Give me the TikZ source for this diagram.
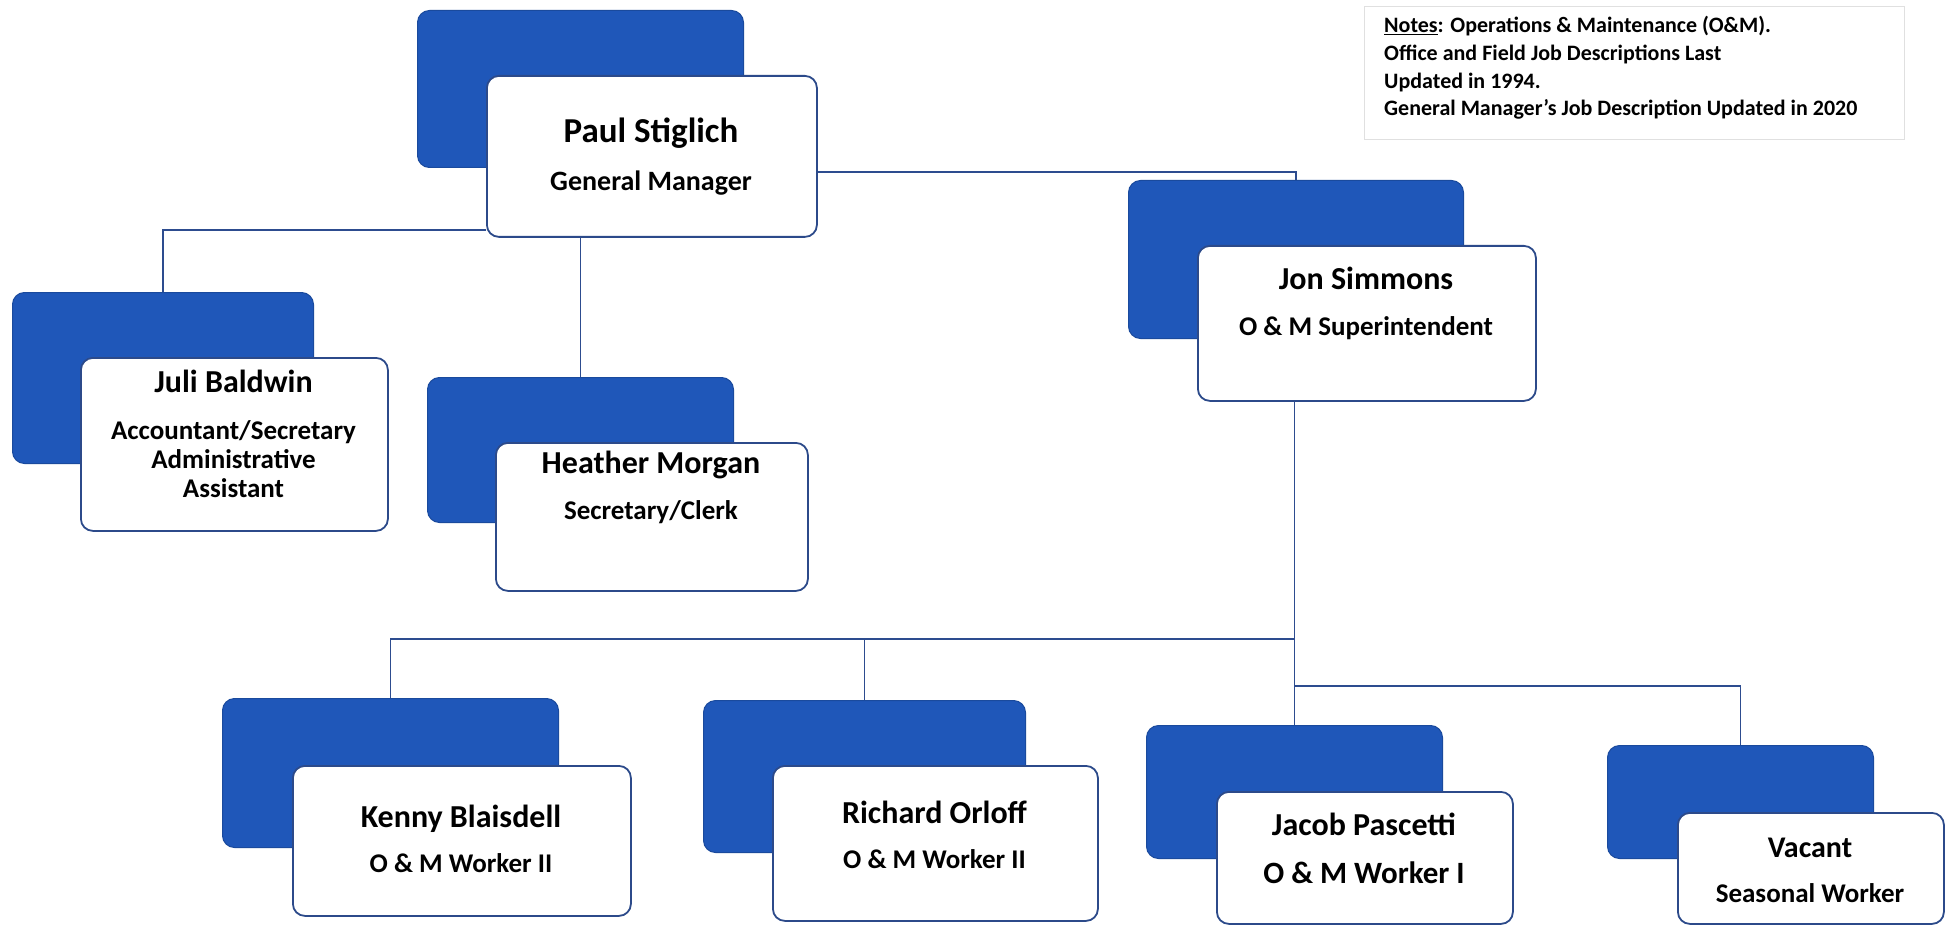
\documentclass[tikz,border=0pt]{standalone}
\usepackage{fontspec}
\setmainfont{Carlito}
\definecolor{boxblue}{HTML}{1F57B9}
\definecolor{boxedge}{HTML}{2C4A8A}
\definecolor{linecol}{HTML}{2D4C8F}
\tikzset{
  bluebox/.style={fill=boxblue, draw=boxblue!85!black, line width=1pt, rounded corners=12pt, anchor=north west, inner sep=0pt},
  whitebox/.style={fill=white, draw=boxedge, line width=1.8pt, rounded corners=12pt, anchor=north west, inner sep=0pt},
  nametext/.style={font=\bfseries\fontsize{32}{36}\selectfont, anchor=base, inner sep=0pt},
  titletext/.style={font=\bfseries\fontsize{27}{29}\selectfont, anchor=base, inner sep=0pt},
  link/.style={draw=linecol, line width=1.8pt},
  notestext/.style={font=\bfseries\fontsize{22}{27.6}\selectfont, anchor=base west, inner sep=0pt}
}
\begin{document}
\begin{tikzpicture}[x=1pt,y=-1pt]
\useasboundingbox[fill=white] (0,0) rectangle (1950,925);

% blue back boxes
\node[bluebox, minimum width=326pt, minimum height=157pt] (gmB) at (417,10) {};
\node[bluebox, minimum width=335pt, minimum height=158pt] (jonB) at (1128,180) {};
\node[bluebox, minimum width=301pt, minimum height=171pt] (juliB) at (12,292) {};
\node[bluebox, minimum width=306pt, minimum height=145pt] (heatherB) at (427,377) {};
\node[bluebox, minimum width=336pt, minimum height=149pt] (kennyB) at (222,698) {};
\node[bluebox, minimum width=322pt, minimum height=152pt] (richardB) at (703,700) {};
\node[bluebox, minimum width=296pt, minimum height=133pt] (jacobB) at (1146,725) {};
\node[bluebox, minimum width=266pt, minimum height=113pt] (vacantB) at (1607,745) {};

% white front boxes
\node[whitebox, minimum width=330pt, minimum height=161pt] (gm) at (486,75) {};
\node[whitebox, minimum width=338pt, minimum height=155pt] (jon) at (1197,245) {};
\node[whitebox, minimum width=307pt, minimum height=173pt] (juli) at (80,357) {};
\node[whitebox, minimum width=312pt, minimum height=148pt] (heather) at (495,442) {};
\node[whitebox, minimum width=338pt, minimum height=150pt] (kenny) at (292,765) {};
\node[whitebox, minimum width=325pt, minimum height=155pt] (richard) at (772,765) {};
\node[whitebox, minimum width=296pt, minimum height=132pt] (jacob) at (1216,791) {};
\node[whitebox, minimum width=266pt, minimum height=111pt] (vacant) at (1677,812) {};

% connectors
\coordinate (bus) at (0,639);
\coordinate (bustwo) at (0,686);
\draw[link] ([yshift=8pt]gm.south west) -| (juliB.north);
\draw[link] (heatherB.north |- gm.south) -- (heatherB.north);
\draw[link] ([yshift=-15.5pt]gm.east) -| (jonB.north);
\draw[link] (jacobB.north |- jon.south) -- (jacobB.north);
\draw[link] (jacobB.north |- bus) -| (kennyB.north);
\draw[link] (richardB.north |- bus) -- (richardB.north);
\draw[link] (jacobB.north |- bustwo) -| (vacantB.north);

% texts
\node[nametext, font=\bfseries\fontsize{35}{38}\selectfont] (gmN) at (651,143) {Paul Stiglich};
\node[titletext, font=\bfseries\fontsize{28}{30}\selectfont] (gmT) at (651,191) {General Manager};
\node[nametext] (jonN) at (1366,289) {Jon Simmons};
\node[titletext] (jonT) at (1366,335) {O \& M Superintendent};
\node[nametext] (juliN) at (233.5,392) {Juli Baldwin};
\node[titletext] (juliT1) at (233.5,439) {Accountant/Secretary};
\node[titletext] (juliT2) at (233.5,468) {Administrative};
\node[titletext] (juliT3) at (233.5,497) {Assistant};
\node[nametext] (heatherN) at (651,473) {Heather Morgan};
\node[titletext] (heatherT) at (651,519) {Secretary/Clerk};
\node[nametext] (kennyN) at (461,827) {Kenny Blaisdell};
\node[titletext] (kennyT) at (461,872) {O \& M Worker II};
\node[nametext] (richardN) at (934.5,823) {Richard Orloff};
\node[titletext] (richardT) at (934.5,868) {O \& M Worker II};
\node[nametext] (jacobN) at (1364,835) {Jacob Pascetti};
\node[titletext, font=\bfseries\fontsize{31}{33}\selectfont] (jacobT) at (1364,883) {O \& M Worker I};
\node[nametext, font=\bfseries\fontsize{30}{33}\selectfont] (vacantN) at (1810,857) {Vacant};
\node[titletext] (vacantT) at (1810,902) {Seasonal Worker};

% notes
\node[draw=black!12, line width=0.8pt, anchor=north west, inner sep=0pt, minimum width=540pt, minimum height=133pt] (notesbox) at (1364,6) {};
\node[notestext] (notes1) at (1384,33) {\underline{Notes}: Operations \& Maintenance (O\&M).};
\node[notestext] (notes2) at (1384,60.6) {Office and Field Job Descriptions Last};
\node[notestext] (notes3) at (1384,88.2) {Updated in 1994.};
\node[notestext] (notes4) at (1384,115.8) {General Manager's Job Description Updated in 2020};
\end{tikzpicture}
\end{document}
